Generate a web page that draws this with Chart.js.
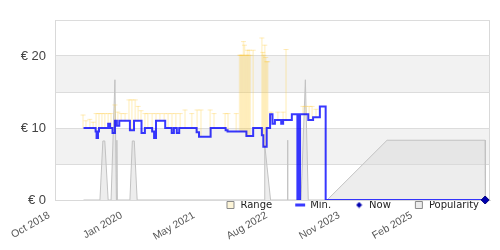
<!DOCTYPE html>
<html>
<head>
<meta charset="utf-8">
<script src="https://cdn.jsdelivr.net/npm/chart.js@4.4.1/dist/chart.umd.min.js"></script>
<style>
  html, body { margin: 0; padding: 0; background: #fff; }
  #priceChart { display: block; }
</style>
</head>
<body>
<canvas id="priceChart" width="500" height="250"></canvas>
<script>
// x values are months counted from Oct 2018
var xTickMonths = [0, 15, 30, 45, 60, 75];
var xTickLabels = ['Oct 2018', 'Jan 2020', 'May 2021', 'Aug 2022', 'Nov 2023', 'Feb 2025'];

// lowest price, step changes (value holds from its month on)
var minMonths = [5.9, 8.4, 8.6, 8.9, 9.1, 11.0, 11.4, 11.9, 12.4, 12.8, 13.3, 15.5, 16.35, 17.9, 18.6,
                 20.1, 20.5, 20.9, 22.8, 24.15, 24.6, 25.2, 25.7, 29.3, 29.8, 32.2, 35.3, 35.7, 39.6,
                 41.0, 42.8, 43.1, 43.8, 44.5, 45.0, 45.5, 46.8, 47.2, 49.0, 50.15, 50.25, 50.6, 50.7,
                 52.4, 53.4, 54.8, 56.0, 89.0];
var minPrices = [10.0, 9.5, 8.6, 9.5, 10.0, 10.6, 10.0, 9.3, 11.0, 10.3, 11.0, 9.7, 11.0, 9.3, 10.0,
                 9.5, 8.6, 11.0, 10.0, 9.3, 10.0, 9.3, 10.0, 9.4, 8.8, 10.0, 9.7, 9.5, 8.9,
                 10.0, 9.0, 7.4, 10.0, 11.9, 10.6, 11.1, 10.6, 11.1, 11.9, 0, 11.9, 0, 11.9,
                 11.1, 11.5, 13.0, 0, 0];

// price range (low / high) offers
var rangeMonths = [5.8, 6.4, 7.2, 7.9, 8.5, 9.1, 9.7, 10.3, 11.0, 11.6, 12.4, 13.0, 13.7, 14.5, 15.3,
                   15.9, 16.6, 17.2, 17.8, 18.6, 19.2, 20.1, 20.9, 21.7, 22.6, 23.4, 24.2, 25.0, 25.9,
                   26.9, 28.3, 29.4, 30.2, 32.1, 32.9, 35.2, 35.8, 37.5,
                   38.2, 38.4, 38.6, 38.8, 39.0, 39.2, 39.4, 39.6, 39.8, 40.0, 40.2, 40.4, 41.0,
                   42.8, 43.0, 43.2, 43.4, 43.6, 43.8, 44.0,
                   44.7, 46.1, 47.2, 47.8, 51.3, 51.9, 52.6, 53.2, 54.0];
var rangeLow = [10, 10, 10, 10, 9.5, 10, 10, 10, 10.6, 10, 9.3, 11, 11, 11, 11,
                9.7, 11, 11, 11, 10, 10, 9.5, 11, 11, 11, 10, 9.3, 10, 10,
                10, 10, 9.4, 8.8, 8.8, 10, 10, 9.5, 9.5,
                9.5, 9.5, 9.5, 9.5, 9.5, 9.5, 9.5, 8.9, 8.9, 8.9, 8.9, 8.9, 10,
                10, 9.0, 7.4, 7.4, 7.4, 10, 10,
                11, 11, 11, 11, 11.9, 11.9, 11.1, 11.3, 11.5];
var rangeHigh = [11.8, 11.0, 11.2, 10.8, 12.0, 12.0, 12.0, 12.0, 12.0, 12.0, 13.2, 12.2, 12.0, 12.0, 13.9,
                 13.9, 13.9, 13.0, 12.4, 12.0, 12.0, 12.0, 12.0, 12.0, 12.0, 12.0, 12.0, 12.0, 12.0,
                 12.5, 12.0, 12.5, 12.5, 12.5, 12.0, 12.0, 12.0, 12.0,
                 20.1, 20.1, 20.1, 20.1, 22.0, 21.5, 20.1, 20.1, 20.8, 20.1, 20.8, 20.1, 20.8,
                 22.5, 20.5, 20.1, 21.5, 19.8, 19.2, 19.2,
                 12.2, 12.2, 12.2, 20.9, 13.0, 13.0, 13.0, 13.0, 12.6];

// popularity (drawn on the price scale)
var popMonths = [5.9, 9.3, 9.9, 10.3, 11.0, 11.6, 12.4, 12.7, 12.8, 12.9, 15.5, 16.0, 16.4, 17.0,
                 43.3, 43.4, 44.6, 48.0, 48.1, 48.2, 50.9, 51.8, 52.4, 56.3, 68.7, 89.0, 89.05];
var popValues = [0, 0, 8.2, 8.2, 0, 0, 16.7, 0, 8.3, 0, 0, 8.2, 8.2, 0,
                 0, 7.6, 0, 0, 8.3, 0, 0, 16.7, 0, 0, 8.3, 8.3, 0];

var nowMonth = 89.0;
var nowPrice = 0;

// small diamond for the "Now" legend entry
var nowIcon = document.createElement('canvas');
nowIcon.width = 7;
nowIcon.height = 7;
(function (c) {
    c.fillStyle = '#0000b0';
    c.beginPath();
    c.moveTo(3.5, 0.5); c.lineTo(6.5, 3.5); c.lineTo(3.5, 6.5); c.lineTo(0.5, 3.5);
    c.closePath();
    c.fill();
})(nowIcon.getContext('2d'));

var legendLook = {
    'Range':      { fillStyle: '#fdf5d8', strokeStyle: '#8a8a8a', lineWidth: 1, pointStyle: 'rect' },
    'Min.':       { fillStyle: '#3a3aff', strokeStyle: '#3a3aff', lineWidth: 3, pointStyle: 'line' },
    'Now':        { fillStyle: '#0000b0', strokeStyle: '#00007a', lineWidth: 1, pointStyle: nowIcon },
    'Popularity': { fillStyle: '#ececec', strokeStyle: '#8a8a8a', lineWidth: 1, pointStyle: 'rect' }
};

// shaded bands between every other grid line, plus the frame round the plot
var plotBands = {
    id: 'plotBands',
    beforeDraw: function (chart) {
        var ctx = chart.ctx, a = chart.chartArea, y = chart.scales.y;
        ctx.save();
        ctx.fillStyle = '#f2f2f2';
        for (var v = 5; v < y.max; v += 10) {
            var top = y.getPixelForValue(Math.min(v + 5, y.max));
            ctx.fillRect(a.left, top, a.right - a.left, y.getPixelForValue(v) - top);
        }
        ctx.strokeStyle = '#d9d9d9';
        ctx.lineWidth = 1;
        ctx.strokeRect(a.left + 0.5, a.top + 0.5, a.right - a.left - 1, a.bottom - a.top);
        ctx.restore();
    }
};

// legend sits just under the plot, over the date labels
var legendUnderPlot = {
    id: 'legendUnderPlot',
    beforeDraw: function (chart) {
        var legend = chart.legend;
        var pad = legend.options.labels.padding;
        legend.top = chart.chartArea.bottom - pad;
        legend.bottom = legend.top + pad + 12;
        legend.right = chart.width + 2;
    }
};

var canvas = document.getElementById('priceChart');

new Chart(canvas, {
    type: 'line',
    data: {
        datasets: [{
            type: 'bar',
            label: 'Range',
            data: rangeMonths.map(function (m, i) { return { x: m, y: [rangeLow[i], rangeHigh[i]] }; }),
            backgroundColor: 'rgba(255, 210, 70, 0.24)',
            borderWidth: 0,
            barThickness: 1,
            grouped: false,
            order: 3
        }, {
            type: 'scatter',
            data: rangeMonths.map(function (m, i) { return { x: m, y: rangeHigh[i] }; }),
            pointStyle: 'line',
            pointRadius: 2.5,
            borderColor: 'rgba(255, 200, 60, 0.35)',
            borderWidth: 1,
            order: 3
        }, {
            label: 'Min.',
            data: minMonths.map(function (m, i) { return { x: m, y: minPrices[i] }; }),
            stepped: true,
            borderColor: 'rgba(0, 0, 255, 0.78)',
            borderWidth: 2,
            pointRadius: 0,
            fill: false,
            order: 1
        }, {
            type: 'scatter',
            label: 'Now',
            data: [{ x: nowMonth, y: nowPrice }],
            pointStyle: 'rectRot',
            pointRadius: 4,
            backgroundColor: '#0000b0',
            borderColor: '#00007a',
            clip: false,
            order: 0
        }, {
            label: 'Popularity',
            data: popMonths.map(function (m, i) { return { x: m, y: popValues[i] }; }),
            borderColor: '#c2c2c2',
            borderWidth: 1,
            backgroundColor: 'rgba(215, 215, 215, 0.45)',
            fill: 'origin',
            pointRadius: 0,
            order: 4
        }]
    },
    options: {
        responsive: false,
        animation: false,
        devicePixelRatio: 1,
        layout: { padding: { top: 20, right: 10, left: 0, bottom: 0 } },
        plugins: {
            tooltip: { enabled: false },
            legend: {
                position: 'bottom',
                align: 'end',
                maxHeight: 1,
                labels: {
                    usePointStyle: true,
                    boxWidth: 10,
                    boxHeight: 7,
                    padding: 23,
                    color: '#222',
                    font: { family: 'DejaVu Sans', size: 10 },
                    generateLabels: function (chart) {
                        return chart.data.datasets
                            .map(function (ds, i) {
                                return Object.assign({ text: ds.label, datasetIndex: i, fontColor: '#222' }, legendLook[ds.label]);
                            })
                            .filter(function (item) { return legendLook[item.text]; });
                    }
                }
            }
        },
        scales: {
            x: {
                type: 'linear',
                min: 0,
                max: 90,
                offset: false,
                grid: { display: false },
                border: { color: '#d9d9d9' },
                afterBuildTicks: function (axis) {
                    axis.ticks = xTickMonths.map(function (v) { return { value: v }; });
                },
                afterFit: function (axis) { axis.height = 49; },
                ticks: {
                    autoSkip: false,
                    minRotation: 30,
                    maxRotation: 30,
                    padding: 1,
                    labelOffset: -6,
                    color: '#555',
                    font: { family: 'Liberation Sans', size: 10.5 },
                    callback: function (v) { return xTickLabels[xTickMonths.indexOf(v)]; }
                }
            },
            y: {
                min: 0,
                max: 25,
                grid: { color: '#dcdcdc', drawTicks: false },
                border: { color: '#d9d9d9' },
                afterFit: function (axis) { axis.width = 55; },
                ticks: {
                    stepSize: 5,
                    padding: 9,
                    color: '#444',
                    font: { family: 'Liberation Sans', size: 13 },
                    callback: function (v) { return v % 10 === 0 ? '€ ' + v : ''; }
                }
            }
        }
    },
    plugins: [plotBands, legendUnderPlot]
});
</script>
</body>
</html>
